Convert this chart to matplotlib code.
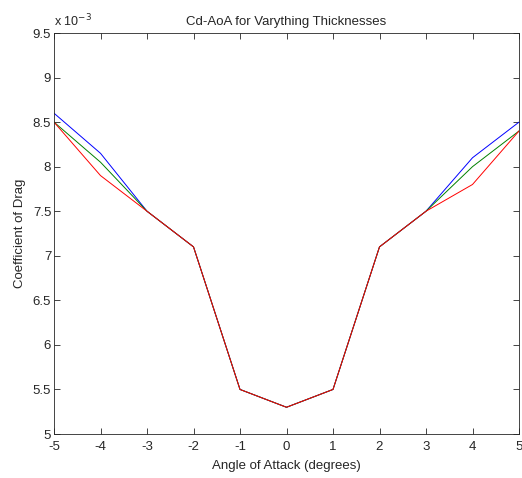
import matplotlib
matplotlib.use("Agg")
import matplotlib.pyplot as plt
from matplotlib.ticker import FuncFormatter

plt.rcParams['font.family'] = ['Liberation Sans', 'DejaVu Sans']
plt.rcParams['axes.unicode_minus'] = False

aoa = [-5, -4, -3, -2, -1, 0, 1, 2, 3, 4, 5]
# Cd values in units of 1e-3
cd_blue = [8.6, 8.15, 7.5, 7.1, 5.5, 5.3, 5.5, 7.1, 7.5, 8.1, 8.5]
cd_green = [8.5, 8.05, 7.5, 7.1, 5.5, 5.3, 5.5, 7.1, 7.5, 8.0, 8.4]
cd_red = [8.5, 7.9, 7.5, 7.1, 5.5, 5.3, 5.5, 7.1, 7.5, 7.8, 8.4]

title = "Cd-AoA for Varything Thicknesses"
xlabel = "Angle of Attack (degrees)"
ylabel = "Coefficient of Drag"
yticks = [5, 5.5, 6, 6.5, 7, 7.5, 8, 8.5, 9, 9.5]

fig = plt.figure(figsize=(5.22, 4.78), dpi=100)
ax = fig.add_axes([54/522, 44/478, 465/522, 401/478])

ax.plot(aoa, cd_blue, color=(0, 0, 1), lw=0.7)
ax.plot(aoa, cd_green, color=(0, 0.5, 0), lw=0.7)
ax.plot(aoa, cd_red, color=(1, 0, 0), lw=0.7)

ax.set_xlim(-5, 5)
ax.set_ylim(5, 9.5)
ax.set_xticks(aoa)
ax.set_yticks(yticks)
ax.xaxis.set_major_formatter(FuncFormatter(lambda v, p: f"{v:g}"))
ax.yaxis.set_major_formatter(FuncFormatter(lambda v, p: f"{v:g}"))
ax.tick_params(direction='in', top=True, right=True, length=4, width=0.6,
               labelsize=9.5, colors='#262626', pad=2)
ax.tick_params(axis='x', pad=5)
for s in ax.spines.values():
    s.set_linewidth(0.6)
    s.set_color('#262626')

ax.set_title(title, fontsize=9.5, pad=6, color='#262626')
ax.set_xlabel(xlabel, fontsize=9.5, labelpad=5, color='#262626')
ax.set_ylabel(ylabel, fontsize=9.5, labelpad=5, color='#262626')
ax.text(0.0, 1.008, r"x 10$^{-3}$", transform=ax.transAxes, fontsize=9,
        ha='left', va='bottom', color='#262626')

fig.savefig("out.png", dpi=100)
